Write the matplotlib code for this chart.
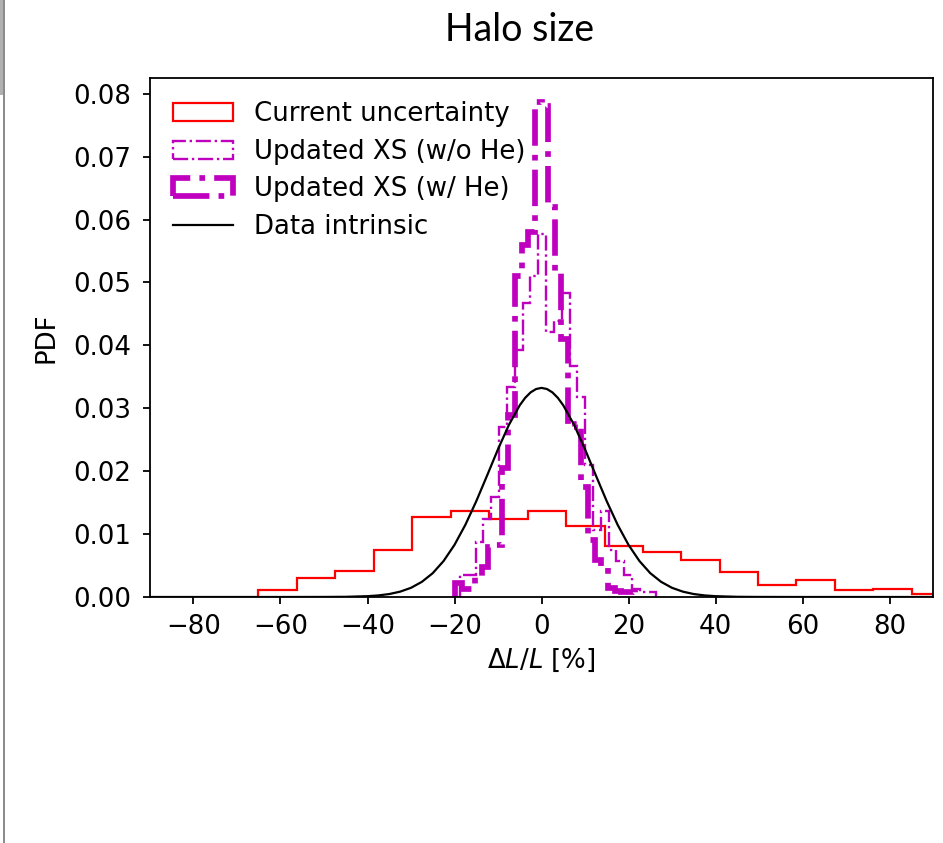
import matplotlib
matplotlib.use('Agg')
import matplotlib.pyplot as plt
from matplotlib.patches import Rectangle
import numpy as np

# Current uncertainty: step histogram (bin edges and PDF heights)
current_edges = [-65.1, -56.3, -47.4, -38.6, -29.7, -20.9, -12.1, -3.2, 5.6, 14.5,
                 23.3, 32.1, 41.0, 49.8, 58.6, 67.5, 76.3, 85.2, 94.0]
current_pdf = [0.0011, 0.0030, 0.0042, 0.0074, 0.0127, 0.0137, 0.0124, 0.0137, 0.0113,
               0.0081, 0.0072, 0.0059, 0.0039, 0.0019, 0.0027, 0.0011, 0.0013, 0.0005]

# Updated XS (w/o He)
nohe_edges = [-18.76, -16.96, -15.16, -13.36, -11.56, -9.76, -7.96, -6.16, -4.36, -2.56,
              -0.76, 1.04, 2.84, 4.64, 6.44, 8.24, 10.04, 11.84, 13.64, 15.44,
              17.24, 19.04, 20.84, 22.64, 24.44, 26.24]
nohe_pdf = [0.0035, 0.0035, 0.0087, 0.0124, 0.0159, 0.0270, 0.0334, 0.0393, 0.0467, 0.0510,
            0.0577, 0.0422, 0.0438, 0.0483, 0.0367, 0.0318, 0.0210, 0.0106, 0.0136, 0.0075,
            0.0058, 0.0035, 0.0012, 0.0008, 0.0008]

# Updated XS (w/ He)
he_edges = [-19.89, -18.36, -16.83, -15.30, -13.77, -12.24, -10.71, -9.18, -7.65, -6.12,
            -4.59, -3.06, -1.53, 0.0, 1.53, 3.06, 4.59, 6.12, 7.65, 9.18,
            10.71, 12.24, 13.77, 15.30, 16.83, 18.36, 19.89, 21.42]
he_pdf = [0.0022, 0.0012, 0.0012, 0.0034, 0.0048, 0.0080, 0.0083, 0.0205, 0.0290, 0.0510,
          0.0560, 0.0580, 0.0787, 0.0780, 0.0620, 0.0515, 0.0410, 0.0270, 0.0275, 0.0175,
          0.0090, 0.0059, 0.0050, 0.0015, 0.0010, 0.0008, 0.0008]

# Data intrinsic: smooth PDF
intr_x = [-90, -60, -50, -45, -40, -37.5, -35, -32.5, -30, -27.5, -25, -22.5, -20, -17.5,
          -15, -12.5, -10, -7.5, -5, -3.75, -2.5, -1.25, 0, 1.25, 2.5, 3.75, 5, 7.5, 10,
          12.5, 15, 17.5, 20, 22.5, 25, 27.5, 30, 32.5, 35, 37.5, 40, 45, 50, 60, 90]
intr_y = [0.0, 0.0, 0.00001, 0.00003, 0.00013, 0.00025, 0.00047, 0.00085, 0.00146, 0.00241,
          0.00379, 0.00573, 0.00829, 0.01148, 0.01522, 0.01932, 0.02349, 0.02735, 0.03048,
          0.03166, 0.03253, 0.03306, 0.03324, 0.03306, 0.03253, 0.03166, 0.03048, 0.02735,
          0.02349, 0.01932, 0.01522, 0.01148, 0.00829, 0.00573, 0.00379, 0.00241, 0.00146,
          0.00085, 0.00047, 0.00025, 0.00013, 0.00003, 0.00001, 0.0, 0.0]

plt.rcParams['font.family'] = ['DejaVu Sans']
plt.rcParams['font.size'] = 18.7
plt.rcParams['axes.linewidth'] = 1.3
plt.rcParams['xtick.major.size'] = 5.3
plt.rcParams['ytick.major.size'] = 5.3
plt.rcParams['xtick.major.width'] = 1.3
plt.rcParams['ytick.major.width'] = 1.3
plt.rcParams['xtick.major.pad'] = 7
plt.rcParams['ytick.major.pad'] = 8

fig = plt.figure(figsize=(9.43, 8.43), dpi=100)
ax = fig.add_axes([150 / 943, 1 - 597 / 843, 783 / 943, 519 / 843])

ax.hist(current_edges[:-1], bins=current_edges, weights=current_pdf, histtype='step',
        color='r', lw=1.6, label='Current uncertainty')
ax.hist(nohe_edges[:-1], bins=nohe_edges, weights=nohe_pdf, histtype='step',
        color='m', lw=1.7, linestyle='-.', label='Updated XS (w/o He)')
ax.hist(he_edges[:-1], bins=he_edges, weights=he_pdf, histtype='step',
        color='m', lw=4.1, linestyle='-.', label='Updated XS (w/ He)')
ax.plot(intr_x, intr_y, color='k', lw=1.6, label='Data intrinsic')

ax.set_xlim(-90, 90)
ax.set_ylim(0, 0.0825)
ax.set_xticks([-80, -60, -40, -20, 0, 20, 40, 60, 80])
ax.set_yticks([0.0, 0.01, 0.02, 0.03, 0.04, 0.05, 0.06, 0.07, 0.08])
ax.set_xlabel(r'$\Delta L/L$ [%]', labelpad=5)
ax.set_ylabel('PDF', labelpad=10)
ax.legend(loc='upper left', frameon=False, handlelength=2.3, labelspacing=0.44)

fig.text(520 / 943, 1 - 30 / 843, 'Halo size', family='Lato', fontsize=27,
         ha='center', va='center')

# screenshot border on the left
fig.add_artist(Rectangle((0, 1 - 95 / 843), 3 / 943, 95 / 843, transform=fig.transFigure,
                         color='#b0b0b0', lw=0))
fig.add_artist(Rectangle((3 / 943, 0), 1.5 / 943, 1, transform=fig.transFigure,
                         color='#8c8c8c', lw=0))

fig.savefig('out.png', dpi=100)
